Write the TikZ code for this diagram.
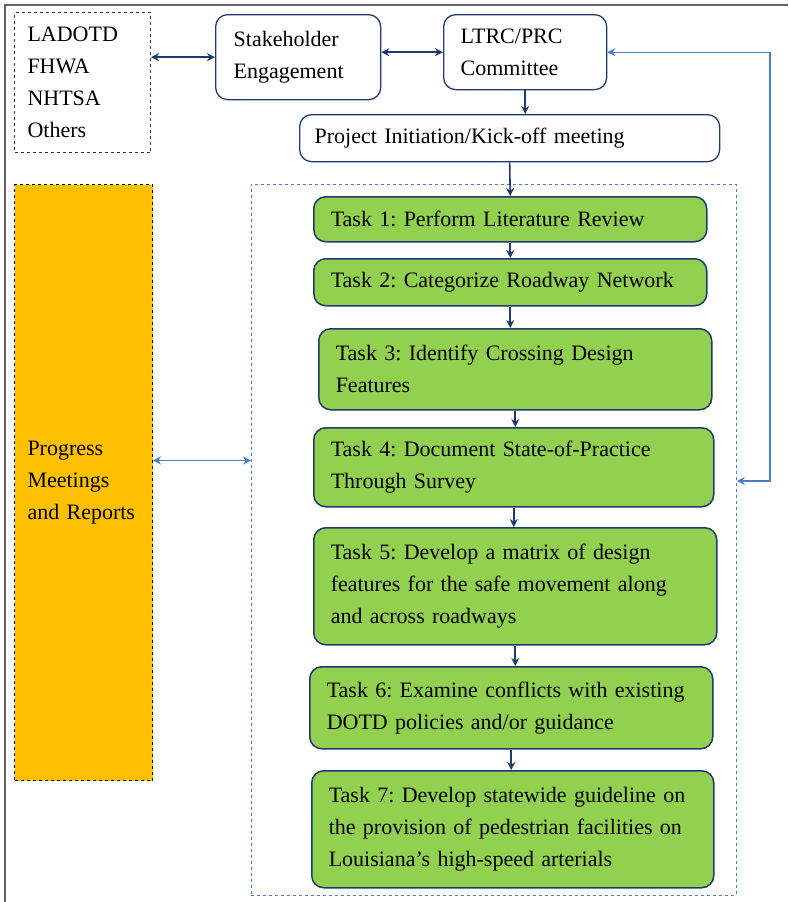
\documentclass[tikz,border=0pt]{standalone}
\usepackage{fontspec}
\setmainfont{Liberation Serif}
\usetikzlibrary{arrows.meta,calc,positioning}
\frenchspacing

\definecolor{dblue}{HTML}{1F3A6E}
\definecolor{lblue}{HTML}{4A7EC9}
\definecolor{tgreen}{HTML}{92D050}
\definecolor{porange}{HTML}{FFC000}

\tikzset{
  blk/.style={draw=dblue, line width=1.3pt, rounded corners=12pt, anchor=north west,
    align=left, inner xsep=17pt, inner ysep=0pt},
  task/.style={blk, fill=tgreen, line width=1.5pt},
  sqbox/.style={anchor=north west, align=left, inner xsep=13pt, inner ysep=0pt,
    dashed, line width=1pt},
  darr/.style={{Stealth[length=8pt,width=8pt]}-{Stealth[length=8pt,width=8pt]}, dblue, line width=1.4pt},
  arr/.style={-{Stealth[length=8pt,width=8pt]}, dblue, line width=1.6pt},
  larr/.style={{Stealth[length=8pt,width=8pt]}-{Stealth[length=8pt,width=8pt]}, lblue, line width=1.1pt}
}

\begin{document}
\begin{tikzpicture}[x=1pt,y=-1pt,font=\fontsize{22}{32}\selectfont]

    \useasboundingbox (0,0) rectangle (788,902);
    \draw[gray!80!black,line width=1.5pt] (5,902) -- (5,5) -- (788,5); % frame

    % top row
    \node[sqbox, draw=dblue, text width=110pt, minimum height=140pt] (lad) at (14,12)
        {LADOTD\\FHWA\\NHTSA\\Others};
    \node[blk, inner xsep=18pt, text width=129pt, minimum height=85pt] (stk) at (215,14)
        {Stakeholder\\Engagement};
    \node[blk, text width=129pt, minimum height=75pt] (ltrc) at (443,14)
        {LTRC/PRC\\Committee};
    \node[blk, inner xsep=15pt, text width=390pt, minimum height=47pt] (proj) at (299,114)
        {Project Initiation/Kick-off meeting};

    % left side and task frame
    \node[sqbox, draw=black, fill=porange, text width=112pt, minimum height=596pt] (prog) at (14,184)
        {Progress\\Meetings\\and Reports};
    \node[draw=lblue, dashed, line width=0.8pt, anchor=north west, inner sep=0pt,
        minimum width=485pt, minimum height=711pt] (cont) at (251,184) {};

    % tasks
    \node[task, text width=359pt, minimum height=45pt] (t1) at (313,196)
        {Task 1: Perform Literature Review};
    \node[task, text width=359pt, minimum height=47pt] (t2) at (313,258)
        {Task 2: Categorize Roadway Network};
    \node[task, text width=359pt, minimum height=81pt] (t3) at (318,328)
        {Task 3: Identify Crossing Design\\Features};
    \node[task, text width=366pt, minimum height=79pt] (t4) at (313,427)
        {Task 4: Document State-of-Practice\\Through Survey};
    \node[task, text width=369pt, minimum height=117pt] (t5) at (313,527)
        {Task 5: Develop a matrix of design\\features for the safe movement along\\and across roadways};
    \node[task, text width=369pt, minimum height=82pt] (t6) at (309,666)
        {Task 6: Examine conflicts with existing\\DOTD policies and/or guidance};
    \node[task, text width=368pt, minimum height=117pt] (t7) at (311,770)
        {Task 7: Develop statewide guideline on\\the provision of pedestrian facilities on\\Louisiana’s high-speed arterials};

    % connectors
    \draw[darr] (lad.east |- stk.west) -- (stk.west);
    \draw[darr] (stk.east |- ltrc.west) -- (ltrc.west);
    \draw[arr] (ltrc.south) -- (ltrc.south |- proj.north);
    \draw[arr] (proj.south) -- (t1.north);
    \foreach \a/\b in {t1/t2,t2/t3,t3/t4,t4/t5,t5/t6,t6/t7}
        \draw[arr] (\a.south) -- (\a.south |- \b.north);

    \draw[larr] ([yshift=22pt]prog.east) -- ([yshift=22pt]prog.east -| cont.west);
    \coordinate (fb) at (770,481);
    \draw[larr] (ltrc.east) -| (fb) -- (fb -| cont.east); % feedback

\end{tikzpicture}
\end{document}
